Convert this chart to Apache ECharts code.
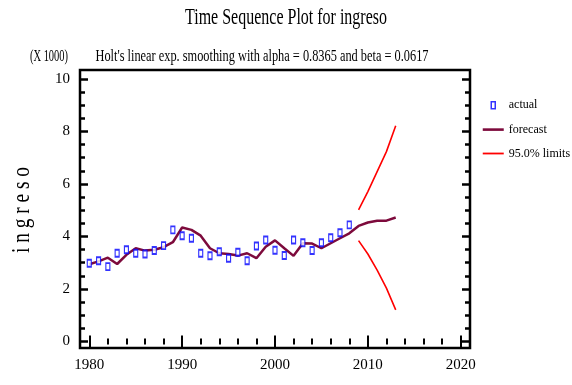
<!DOCTYPE html>
<html>
<head>
<meta charset="utf-8">
<script src="https://cdn.jsdelivr.net/npm/echarts@6/dist/echarts.min.js"></script>
<style>
html, body { margin: 0; padding: 0; background: #fff; }
#chart { width: 572px; height: 385px; }
</style>
</head>
<body>
<div id="chart"></div>
<script>
// values (in thousands)
var actualYears = [1980, 1981, 1982, 1983, 1984, 1985, 1986, 1987, 1988, 1989,
    1990, 1991, 1992, 1993, 1994, 1995, 1996, 1997, 1998, 1999,
    2000, 2001, 2002, 2003, 2004, 2005, 2006, 2007, 2008];
var actualValues = [2.98, 3.07, 2.85, 3.36, 3.49, 3.36, 3.33, 3.46, 3.65, 4.25,
    4.03, 3.93, 3.36, 3.26, 3.42, 3.17, 3.40, 3.07, 3.64, 3.86,
    3.47, 3.27, 3.86, 3.76, 3.46, 3.76, 3.95, 4.14, 4.44];

var forecastYears = [1980, 1981, 1982, 1983, 1984, 1985, 1986, 1987, 1988, 1989,
    1990, 1991, 1992, 1993, 1994, 1995, 1996, 1997, 1998, 1999,
    2000, 2001, 2002, 2003, 2004, 2005, 2006, 2007, 2008, 2009,
    2010, 2011, 2012, 2013];
var forecastValues = [2.94, 3.05, 3.19, 2.95, 3.30, 3.55, 3.46, 3.49, 3.59, 3.78,
    4.34, 4.25, 4.03, 3.55, 3.36, 3.33, 3.27, 3.36, 3.17, 3.61,
    3.85, 3.55, 3.26, 3.74, 3.73, 3.55, 3.74, 3.93, 4.12, 4.40,
    4.53, 4.60, 4.60, 4.72];

var limitYears = [2009, 2010, 2011, 2012, 2013];
var upperLimits = [5.01, 5.71, 6.47, 7.23, 8.22];
var lowerLimits = [3.84, 3.33, 2.72, 2.03, 1.20];

// tick positions
var xMajorTicks = [1980, 1990, 2000, 2010, 2020];
var xMinorTicks = [1982, 1984, 1986, 1988, 1992, 1994, 1996, 1998, 2002, 2004,
    2006, 2008, 2012, 2014, 2016, 2018];
var yMajorTicks = [0, 2, 4, 6, 8, 10];
var yMinorTicks = [0.5, 1, 1.5, 2.5, 3, 3.5, 4.5, 5, 5.5, 6.5, 7, 7.5, 8.5, 9, 9.5];

var serif = "'Liberation Serif', 'Times New Roman', serif";

function pairs(xs, ys) {
    return xs.map(function (x, i) { return [x, ys[i]]; });
}

// squeeze text horizontally so it fills the given width (the original font is condensed)
var measureCtx = document.createElement('canvas').getContext('2d');
function squeeze(text, size, width) {
    measureCtx.font = size + 'px ' + serif;
    return width / measureCtx.measureText(text).width;
}

function label(text, x, y, size, width, rot) {
    return {
        type: 'text',
        x: x,
        y: y,
        rotation: rot || 0,
        scaleX: squeeze(text, size, width),
        silent: true,
        style: {
            text: text,
            font: size + 'px ' + serif,
            fill: '#000',
            align: 'center',
            verticalAlign: 'middle'
        }
    };
}

function xAxisOf(pos, ticks, len, showLabel) {
    return {
        type: 'value',
        position: pos,
        min: 1979,
        max: 2021,
        axisLine: { show: false },
        splitLine: { show: false },
        axisTick: {
            inside: true,
            length: len,
            customValues: ticks,
            lineStyle: { color: '#000', width: 2 }
        },
        axisLabel: {
            show: showLabel,
            customValues: xMajorTicks,
            formatter: function (v) { return String(v); },
            margin: 10,
            fontFamily: serif,
            fontSize: 15,
            color: '#000'
        }
    };
}

function yAxisOf(pos, ticks, len, showLabel) {
    return {
        type: 'value',
        position: pos,
        min: -0.25,
        max: 10.34,
        axisLine: { show: false },
        splitLine: { show: false },
        axisTick: {
            inside: true,
            length: len,
            customValues: ticks,
            lineStyle: { color: '#000', width: 2.5 }
        },
        axisLabel: {
            show: showLabel,
            customValues: yMajorTicks,
            margin: 10,
            fontFamily: serif,
            fontSize: 15,
            color: '#000'
        }
    };
}

var myChart = echarts.init(document.getElementById('chart'));

var option = {
    animation: false,
    backgroundColor: '#fff',
    grid: {
        show: true,
        left: 80,
        right: 102,
        top: 70,
        bottom: 37,
        borderColor: '#000',
        borderWidth: 2.5,
        outerBoundsMode: 'none',
        containLabel: false
    },
    legend: {
        orient: 'vertical',
        left: 477,
        top: 93,
        itemWidth: 21,
        itemHeight: 12,
        itemGap: 12,
        textStyle: { fontFamily: serif, fontSize: 12, color: '#000' },
        data: [
            {
                name: 'actual',
                icon: 'path://M0,0M21,12M8.5,3h4v7h-4z',
                itemStyle: { color: '#fff', borderColor: '#0000ff', borderWidth: 1.5 }
            },
            {
                name: 'forecast',
                icon: 'path://M0,0M21,12M0,4.8h21v2.6h-21z',
                itemStyle: { color: '#7d0a3c', borderWidth: 0 }
            },
            {
                name: '95.0% limits',
                icon: 'path://M0,0M21,12M0,5.1h21v1.8h-21z',
                itemStyle: { color: '#ff0000', borderWidth: 0 }
            }
        ]
    },
    xAxis: [
        xAxisOf('bottom', xMajorTicks, 6, true),
        xAxisOf('bottom', xMinorTicks, 3, false),
        xAxisOf('top', xMajorTicks, 6, false),
        xAxisOf('top', xMinorTicks, 3, false)
    ],
    yAxis: [
        yAxisOf('left', yMajorTicks, 8, true),
        yAxisOf('left', yMinorTicks, 5, false),
        yAxisOf('right', yMajorTicks, 8, false),
        yAxisOf('right', yMinorTicks, 5, false)
    ],
    graphic: [
        label('Time Sequence Plot for ingreso', 286, 18, 24, 202),
        label("Holt's linear exp. smoothing with alpha = 0.8365 and beta = 0.0617", 262, 57, 16, 333),
        label('(X 1000)', 49, 57, 16, 38),
        label('i n g r e s o', 22, 210, 26, 86, Math.PI / 2)
    ],
    series: [
        {
            name: 'forecast',
            type: 'line',
            data: pairs(forecastYears, forecastValues),
            symbol: 'none',
            lineStyle: { color: '#7d0a3c', width: 2.5 },
            itemStyle: { color: '#7d0a3c' },
            z: 2
        },
        {
            name: '95.0% limits',
            type: 'line',
            data: pairs(limitYears, upperLimits),
            symbol: 'none',
            lineStyle: { color: '#ff0000', width: 1.6 },
            itemStyle: { color: '#ff0000' },
            z: 2
        },
        {
            name: '95.0% limits',
            type: 'line',
            data: pairs(limitYears, lowerLimits),
            symbol: 'none',
            lineStyle: { color: '#ff0000', width: 1.6 },
            itemStyle: { color: '#ff0000' },
            z: 2
        },
        {
            name: 'actual',
            type: 'scatter',
            data: pairs(actualYears, actualValues),
            symbol: 'rect',
            symbolSize: [4, 7],
            itemStyle: { color: '#fff', borderColor: '#0000ff', borderWidth: 1.5 },
            z: 3
        }
    ]
};

myChart.setOption(option, true);
</script>
</body>
</html>
